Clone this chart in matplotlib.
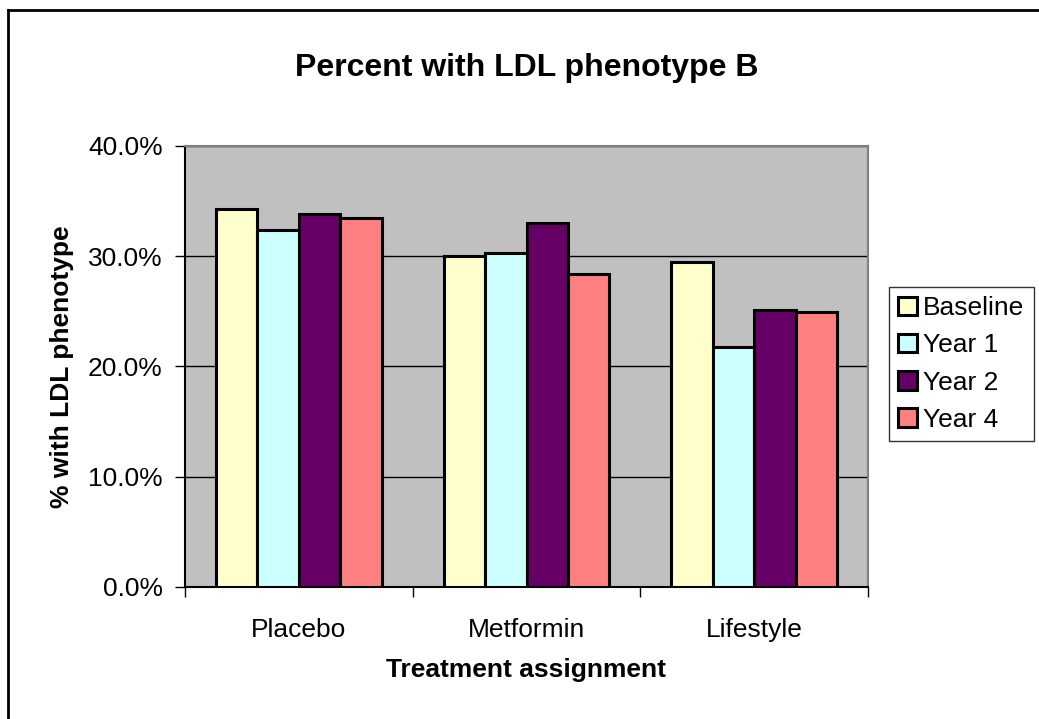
import numpy as np
import matplotlib
matplotlib.use("Agg")
import matplotlib.pyplot as plt
from matplotlib.lines import Line2D

plt.rcParams['font.family'] = ['Liberation Sans', 'DejaVu Sans']

# data
categorias = ['Placebo', 'Metformin', 'Lifestyle']
series = ['Baseline', 'Year 1', 'Year 2', 'Year 4']
baseline = [34.3, 30.0, 29.5]
year1 = [32.4, 30.3, 21.8]
year2 = [33.8, 33.0, 25.1]
year4 = [33.5, 28.4, 24.9]
colores = ['#FFFFCC', '#CCFFFF', '#660066', '#FF8080']

valores = [baseline, year1, year2, year4]

fig = plt.figure(figsize=(10.39, 7.19), dpi=100)
ax = fig.add_axes([185/1039, 1-587/719, (868-185)/1039, (587-146)/719])
ax.set_facecolor('#C0C0C0')

x = np.arange(len(categorias))
w = 1/5.5
for i, (serie, vals) in enumerate(zip(series, valores)):
    ax.bar(x + (i - 1.5)*w, vals, width=w, color=colores[i], edgecolor='black',
           linewidth=2.2, label=serie, zorder=3)

ax.set_xlim(-0.5, 2.5)
ax.set_ylim(0, 40)
ax.set_yticks([0, 10, 20, 30, 40])
ax.set_yticklabels(['0.0%', '10.0%', '20.0%', '30.0%', '40.0%'])
ax.yaxis.grid(True, color='black', linewidth=1, zorder=1)
ax.set_axisbelow(True)

ax.set_xticks([-0.5, 0.5, 1.5, 2.5])
ax.set_xticklabels([])
ax.set_xticks(x, minor=True)
ax.set_xticklabels(categorias, minor=True)
ax.tick_params(axis='x', which='minor', length=0, pad=22, labelsize=19)
ax.tick_params(axis='x', which='major', length=7, width=1, direction='out')
ax.tick_params(axis='y', length=7, width=1, direction='out', labelsize=19, pad=9)

ax.spines['left'].set_color('black')
ax.spines['bottom'].set_color('black')
ax.spines['top'].set_color('#808080')
ax.spines['right'].set_color('#808080')
for s in ax.spines.values():
    s.set_linewidth(1.5)

ax.set_xlabel('Treatment assignment', fontsize=19, fontweight='bold', labelpad=12)
ax.set_ylabel('% with LDL phenotype', fontsize=19, fontweight='bold', labelpad=10)
fig.text(0.5*(185+868)/1039, 1-68/719, 'Percent with LDL phenotype B',
         ha='center', va='center', fontsize=23, fontweight='bold')

leg = fig.legend(loc='upper left', bbox_to_anchor=(889/1039, 1-287/719),
                 fontsize=19, frameon=True, fancybox=False, edgecolor='black',
                 handlelength=0.7, handleheight=0.7, handletextpad=0.25,
                 borderpad=0.35, labelspacing=0.5, borderaxespad=0)
leg.get_frame().set_linewidth(1)

# marco exterior
fig.add_artist(Line2D([8/1039, 8/1039], [0, 1-10/719], color='black', linewidth=2,
                      transform=fig.transFigure))
fig.add_artist(Line2D([8/1039, 1], [1-10/719, 1-10/719], color='black', linewidth=2,
                      transform=fig.transFigure))

fig.savefig('out.png', dpi=100)
